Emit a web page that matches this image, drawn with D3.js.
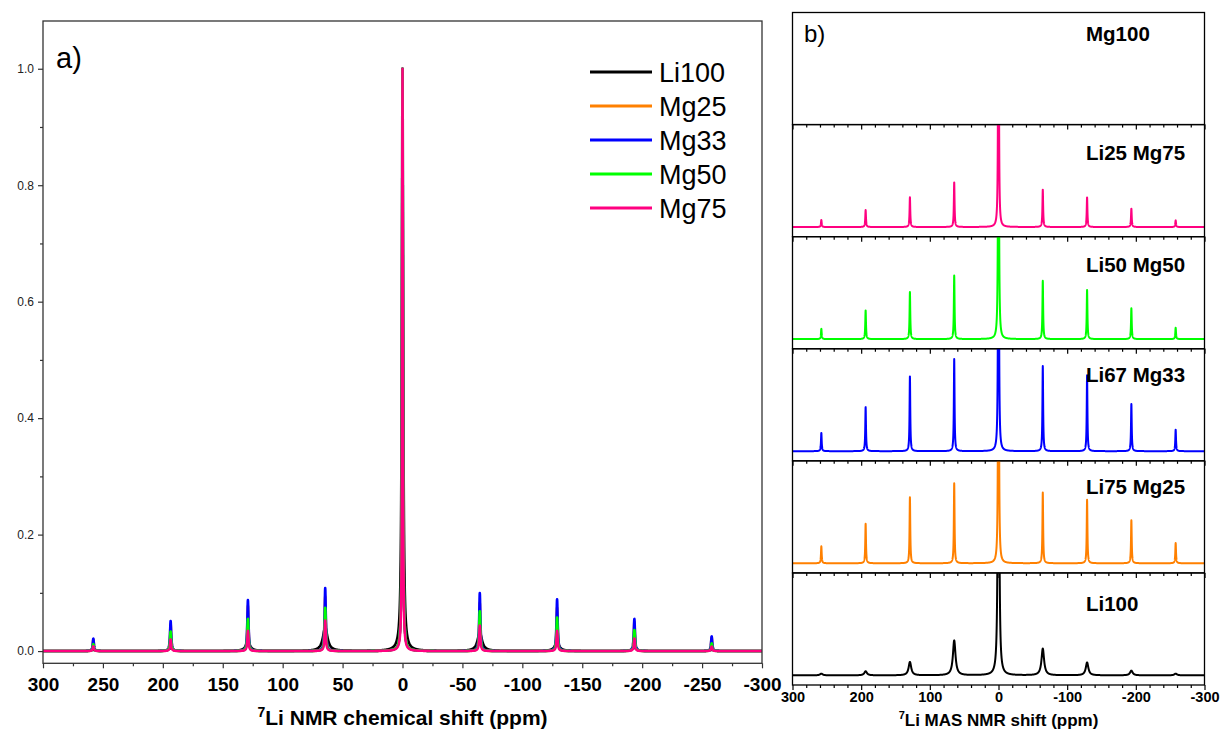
<!DOCTYPE html>
<html>
<head>
<meta charset="utf-8">
<script src="https://cdn.jsdelivr.net/npm/d3@7/dist/d3.min.js"></script>
<style>
  html, body { margin: 0; padding: 0; background: #fff; }
  svg { display: block; font-family: "Liberation Sans", Arial, sans-serif; }
</style>
</head>
<body>
<svg id="chart" width="1222" height="731"></svg>
<script>
// ---------------- DATA ----------------
const seriesNames = ["Li100", "Mg25", "Mg33", "Mg50", "Mg75"];
const seriesColors = ["#000000", "#FF8000", "#0000FF", "#00FF00", "#FF0080"];
// spinning sideband positions (ppm)
const peakPositions = [258, 193.5, 129, 64.5, 0, -64.5, -129, -193.5, -258];
// peak heights (normalised to central peak = 1)
const heightsLi100 = [0.0020, 0.0048, 0.0156, 0.0408, 1, 0.0312, 0.0150, 0.0055, 0.0020];
const heightsMg25  = [0.0198, 0.0462, 0.0774, 0.0936, 1, 0.0828, 0.0744, 0.0504, 0.0236];
const heightsMg33  = [0.0214, 0.0516, 0.0876, 0.1080, 1, 0.0996, 0.0888, 0.0552, 0.0252];
const heightsMg50  = [0.0120, 0.0336, 0.0552, 0.0744, 1, 0.0684, 0.0576, 0.0360, 0.0132];
const heightsMg75  = [0.0082, 0.0199, 0.0348, 0.0522, 1, 0.0437, 0.0347, 0.0215, 0.0078];
const seriesHeights = [heightsLi100, heightsMg25, heightsMg33, heightsMg50, heightsMg75];
// line widths (FWHM, ppm)
const centralWidths  = [1.3, 0.8, 0.8, 0.8, 0.7];
const sidebandWidths = [4.5, 1.2, 1.2, 1.2, 1.2];

const leftXTicks = [300, 250, 200, 150, 100, 50, 0, -50, -100, -150, -200, -250, -300];
const leftYTicks = [0.0, 0.2, 0.4, 0.6, 0.8, 1.0];
const rightXTicks = [300, 200, 100, 0, -100, -200, -300];

const panelLabels = ["Mg100", "Li25 Mg75", "Li50 Mg50", "Li67 Mg33", "Li75 Mg25", "Li100"];
const panelSeries = [null, "Mg75", "Mg50", "Mg33", "Mg25", "Li100"];

// ---------------- BUILD SPECTRA ----------------
const ppmGrid = d3.range(-3000, 3001).map(i => i / 10);
function spectrum(k) {
  const h = seriesHeights[k];
  return ppmGrid.map(x => {
    let y = 0;
    peakPositions.forEach((p, j) => {
      const w = (p === 0 ? centralWidths[k] : sidebandWidths[k]) / 2;
      y += h[j] * w * w / ((x - p) * (x - p) + w * w);
    });
    return [x, y];
  });
}
const spectra = seriesNames.map((n, k) => spectrum(k));

// ---------------- DRAW ----------------
const svg = d3.select("#chart");
const FONT = '"Liberation Sans", Arial, sans-serif';
const intFmt = d => String(d); // plain hyphen-minus like the original

// ===== Left panel (a) =====
const L = { left: 43, right: 762, top: 21, bottom: 663.3 };
const xL = d3.scaleLinear().domain([300, -300]).range([L.left, L.right]);
const yL = d3.scaleLinear().domain([-0.021, 1.082]).range([L.bottom, L.top]);

svg.append("clipPath").attr("id", "clipL").append("rect")
  .attr("x", L.left).attr("y", L.top).attr("width", L.right - L.left).attr("height", L.bottom - L.top);

const lineL = d3.line().x(d => xL(d[0])).y(d => yL(d[1]));
const gL = svg.append("g").attr("clip-path", "url(#clipL)");
spectra.forEach((s, k) => {
  gL.append("path").attr("d", lineL(s)).attr("fill", "none")
    .attr("stroke", seriesColors[k]).attr("stroke-width", 2.6).attr("stroke-linejoin", "round");
});

// frame
svg.append("rect").attr("x", L.left).attr("y", L.top).attr("width", L.right - L.left)
  .attr("height", L.bottom - L.top).attr("fill", "none").attr("stroke", "#333").attr("stroke-width", 1.3);

// x axis
const axXL = svg.append("g").attr("transform", `translate(0,${L.bottom})`)
  .call(d3.axisBottom(xL).tickValues(leftXTicks).tickSize(5).tickPadding(9).tickFormat(intFmt));
axXL.select(".domain").remove();
axXL.selectAll("line").attr("stroke", "#333").attr("stroke-width", 1.2);
axXL.selectAll("text").attr("font-family", FONT).attr("font-size", 19).attr("font-weight", "bold").attr("fill", "#000");
const axXLm = svg.append("g").attr("transform", `translate(0,${L.bottom})`)
  .call(d3.axisBottom(xL).tickValues(d3.range(275, -300, -50)).tickSize(3).tickFormat(""));
axXLm.select(".domain").remove();
axXLm.selectAll("line").attr("stroke", "#333").attr("stroke-width", 1.2);

// y axis
const axYL = svg.append("g").attr("transform", `translate(${L.left},0)`)
  .call(d3.axisLeft(yL).tickValues(leftYTicks).tickSize(5).tickPadding(4).tickFormat(d3.format(".1f")));
axYL.select(".domain").remove();
axYL.selectAll("line").attr("stroke", "#333").attr("stroke-width", 1.2);
axYL.selectAll("text").attr("font-family", FONT).attr("font-size", 12).attr("fill", "#222");
const axYLm = svg.append("g").attr("transform", `translate(${L.left},0)`)
  .call(d3.axisLeft(yL).tickValues([0.1, 0.3, 0.5, 0.7, 0.9]).tickSize(3).tickFormat(""));
axYLm.select(".domain").remove();
axYLm.selectAll("line").attr("stroke", "#333").attr("stroke-width", 1.2);

// x title
const tL = svg.append("text").attr("x", (L.left + L.right) / 2).attr("y", 725)
  .attr("text-anchor", "middle").attr("font-family", FONT).attr("font-size", 21).attr("font-weight", "bold");
tL.append("tspan").attr("font-size", 14).attr("dy", -8).text("7");
tL.append("tspan").attr("dy", 8).text("Li NMR chemical shift (ppm)");

// panel label
svg.append("text").attr("x", 56).attr("y", 68).attr("font-family", FONT).attr("font-size", 29).text("a)");

// legend
const legendRowY = (i) => 72 + i * 34;
seriesNames.forEach((n, i) => {
  svg.append("line").attr("x1", 590).attr("x2", 652).attr("y1", legendRowY(i)).attr("y2", legendRowY(i))
    .attr("stroke", seriesColors[i]).attr("stroke-width", 3);
  svg.append("text").attr("x", 659).attr("y", legendRowY(i) + 9.5).attr("font-family", FONT)
    .attr("font-size", 27).text(n);
});

// ===== Right panel (b) =====
const R = { left: 792.5, right: 1204.5, top: 12.5, bottom: 685 };
const nPanels = panelLabels.length;
const pH = (R.bottom - R.top) / nPanels;
const xR = d3.scaleLinear().domain([300, -300]).range([R.left, R.right]);
const labelBaselineOffsets = [28, 35.5, 35, 33, 33, 38.5];
const lineR = (yS) => d3.line().x(d => xR(d[0])).y(d => yS(d[1]));

panelLabels.forEach((lab, i) => {
  const top = R.top + i * pH, bot = top + pH;
  const yR = d3.scaleLinear().domain([-0.0113, 0.12]).range([bot, top]);
  const cid = "clipR" + i;
  svg.append("clipPath").attr("id", cid).append("rect")
    .attr("x", R.left).attr("y", top).attr("width", R.right - R.left).attr("height", pH);
  const sName = panelSeries[i];
  if (sName) {
    const k = seriesNames.indexOf(sName);
    svg.append("g").attr("clip-path", `url(#${cid})`).append("path")
      .attr("d", lineR(yR)(spectra[k])).attr("fill", "none")
      .attr("stroke", seriesColors[k]).attr("stroke-width", 2).attr("stroke-linejoin", "round");
  }
  // bottom axis ticks of each panel
  const ax = svg.append("g").attr("transform", `translate(0,${bot})`)
    .call(d3.axisBottom(xR).tickValues(rightXTicks).tickSize(5).tickPadding(2)
      .tickFormat(i === nPanels - 1 ? intFmt : ""));
  ax.select(".domain").remove();
  ax.selectAll("line").attr("stroke", "#000").attr("stroke-width", 1.2);
  ax.selectAll("text").attr("font-family", FONT).attr("font-size", 14.5).attr("font-weight", "bold").attr("fill", "#000");
  const axm = svg.append("g").attr("transform", `translate(0,${bot})`)
    .call(d3.axisBottom(xR).tickValues(d3.range(280, -300, -20).filter(v => v % 100 !== 0)).tickSize(3).tickFormat(""));
  axm.select(".domain").remove();
  axm.selectAll("line").attr("stroke", "#000").attr("stroke-width", 1.2);
  // frame
  svg.append("rect").attr("x", R.left).attr("y", top).attr("width", R.right - R.left).attr("height", pH)
    .attr("fill", "none").attr("stroke", "#000").attr("stroke-width", 1.3);
  // label
  svg.append("text").attr("x", 1086).attr("y", top + labelBaselineOffsets[i])
    .attr("font-family", FONT).attr("font-size", 20.5).attr("font-weight", "bold").text(lab);
});

svg.append("text").attr("x", 804).attr("y", 42).attr("font-family", FONT).attr("font-size", 24).text("b)");

const tR = svg.append("text").attr("x", (R.left + R.right) / 2).attr("y", 726)
  .attr("text-anchor", "middle").attr("font-family", FONT).attr("font-size", 17).attr("font-weight", "bold");
tR.append("tspan").attr("font-size", 11).attr("dy", -7).text("7");
tR.append("tspan").attr("dy", 7).text("Li MAS NMR shift (ppm)");
</script>
</body>
</html>
